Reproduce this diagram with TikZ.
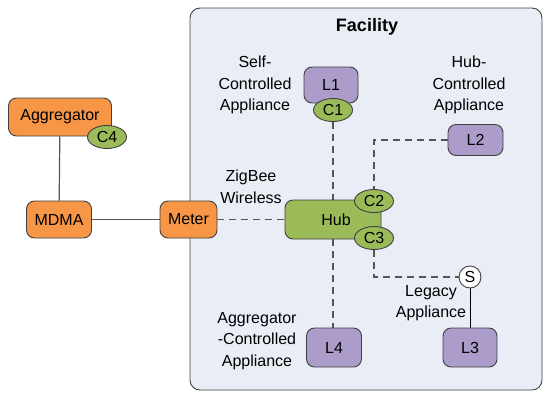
\documentclass[tikz,border=0pt]{standalone}
\usepackage{fontspec}
\setmainfont{Liberation Sans}
\usetikzlibrary{shapes.geometric,backgrounds}

\definecolor{meterorange}{HTML}{F79646}
\definecolor{hubgreen}{HTML}{9BBB59}
\definecolor{loadpurple}{HTML}{AC9CC9}
\definecolor{facilityfill}{HTML}{E9EEF6}
\definecolor{linegray}{HTML}{404040}
\definecolor{wiregray}{HTML}{555555}

\tikzset{
	box/.style={draw=linegray, rounded corners=8pt, line width=0.9pt, inner sep=0pt, font=\fontsize{16}{19}\selectfont},
	meterbox/.style={box, fill=meterorange},
	loadbox/.style={box, fill=loadpurple},
	hubbox/.style={box, fill=hubgreen},
	ctrl/.style={ellipse, draw=linegray, fill=hubgreen, line width=0.9pt, inner sep=0pt, minimum width=39pt, minimum height=23pt, font=\fontsize{16}{19}\selectfont},
	switch/.style={circle, draw=linegray, fill=white, line width=0.9pt, inner sep=0pt, minimum size=22pt, font=\fontsize{16}{19}\selectfont},
	wire/.style={draw=wiregray, line width=1.2pt},
	wireless/.style={wire, dash pattern=on 7pt off 5pt},
	caption/.style={align=center, font=\fontsize{16}{21.5}\selectfont},
}

\begin{document}
\begin{tikzpicture}[x=1pt, y=-1pt]
	\useasboundingbox (0,0) rectangle (543,392);

	% outside the facility
	\node[meterbox, minimum width=103pt, minimum height=38pt] (agg) at (60,117) {Aggregator};
	\node[ctrl] (c4) at (107,137) {C4};
	\node[meterbox, minimum width=65pt, minimum height=37pt] (mdma) at (59,219.5) {MDMA};
	\node[meterbox, minimum width=57pt, minimum height=37pt] (meter) at (188.5,219.5) {Meter};

	% inside the facility
	\node[font=\fontsize{18}{21}\selectfont\bfseries] (title) at (367,27) {Facility};
	\node[loadbox, minimum width=54pt, minimum height=36pt] (l1) at (331,85) {L1};
	\node[ctrl] (c1) at (333,110) {C1};
	\node[loadbox, minimum width=55pt, minimum height=31pt] (l2) at (475.5,140) {L2};
	\node[hubbox, minimum width=96pt, minimum height=39pt] (hub) at (333,219.5) {\hspace*{6pt}Hub};
	\node[ctrl] (c2) at (374,201) {C2};
	\node[ctrl] (c3) at (374,238) {C3};
	\node[switch] (s) at (470,277) {S};
	\node[loadbox, minimum width=54pt, minimum height=39pt] (l3) at (470,347.5) {L3};
	\node[loadbox, minimum width=55pt, minimum height=39pt] (l4) at (334,347.5) {L4};

	\node[caption] (selfcap) at (255,85) {Self-\\Controlled\\Appliance};
	\node[caption] (hubcap) at (469,85) {Hub-\\Controlled\\Appliance};
	\node[caption] (zigcap) at (251,187) {ZigBee\\Wireless};
	\node[caption] (legcap) at (431,303) {Legacy\\Appliance};
	\node[caption] (aggcap) at (257,341) {Aggregator\\-Controlled\\Appliance};

	\begin{scope}[on background layer]
		\draw[draw=linegray, fill=facilityfill, line width=0.9pt, rounded corners=10pt] (190,8) rectangle (542,390);
		\draw[wire] (agg) -- (mdma);
		\draw[wire] (mdma) -- (meter);
		\draw[wireless] (meter) -- (hub);
		\draw[wireless] (c1) -- (hub);
		\draw[wireless] (hub.south -| c1) -- (l4.north -| c1);
		\draw[wireless] (l2.west) -| (c2.north);
		\draw[wireless] (c3.south) |- (s.west);
		\draw[wire, draw=black, line width=1pt] (s) -- (l3);
	\end{scope}
\end{tikzpicture}
\end{document}
